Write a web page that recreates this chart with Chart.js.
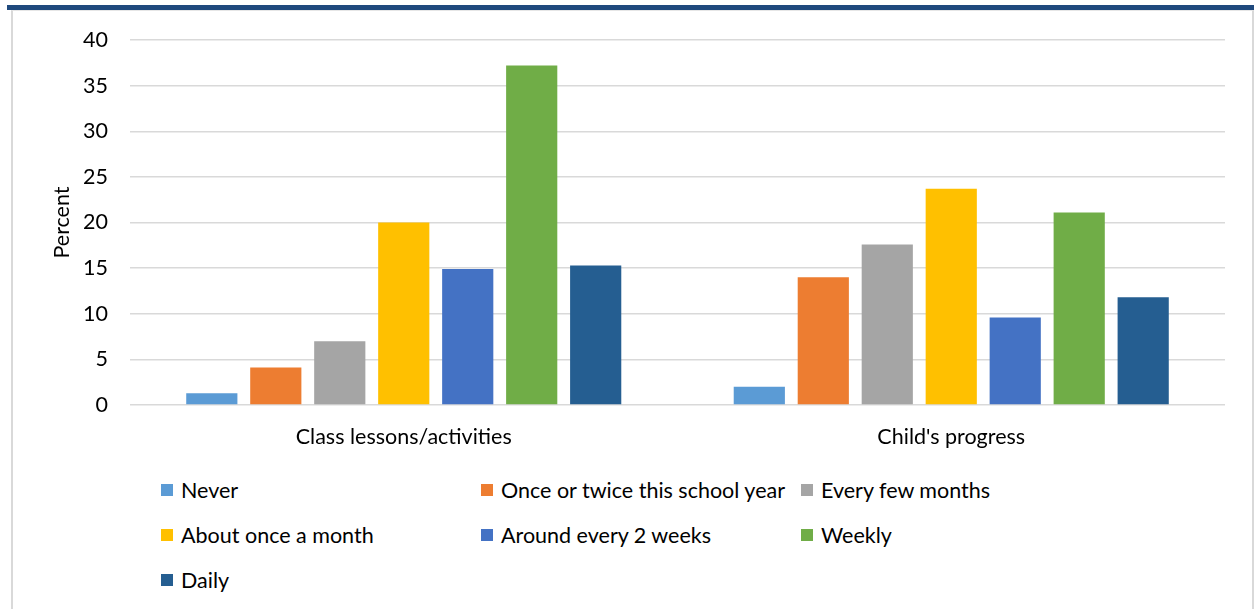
<!DOCTYPE html>
<html>
<head>
<meta charset="utf-8">
<script src="https://cdn.jsdelivr.net/npm/chart.js@4"></script>
<style>
    html, body { margin: 0; padding: 0; background: #fff; }
    body { width: 1254px; height: 609px; position: relative; overflow: hidden; font-family: Lato, sans-serif; }
    .frame { position: absolute; left: 7px; top: 5px; width: 1247px; height: 604px; border-top: 5px solid #1F497D; box-sizing: border-box; }
    .frame-in { position: absolute; left: 11px; top: 10px; width: 1243px; height: 599px; border-left: 2px solid #d9d9d9; border-right: 2px solid #d9d9d9; border-top: 1px solid #e6e6e6; box-sizing: border-box; }
    .chart-box { position: absolute; left: 0; top: 0; width: 1254px; height: 460px; }
    .legend { position: absolute; left: 0; top: 0; }
    .legend-item { position: absolute; display: flex; align-items: center; font-size: 21.5px; color: #000; white-space: nowrap; height: 26px; }
    .legend-item span.box { width: 12px; height: 12px; margin-right: 8px; display: inline-block; }
</style>
</head>
<body>
<div class="frame"></div>
<div class="frame-in"></div>
<div class="chart-box"><canvas id="chart"></canvas></div>
<div class="legend" id="legend"></div>
<script>
    // Категории и значения (проценты)
    const categories = ['Class lessons/activities', "Child's progress"];
    const seriesNames = ['Never', 'Once or twice this school year', 'Every few months', 'About once a month', 'Around every 2 weeks', 'Weekly', 'Daily'];
    const never = [1.3, 2.0];
    const onceTwice = [4.1, 14.0];
    const everyFewMonths = [7.0, 17.6];
    const onceMonth = [20.0, 23.7];
    const every2Weeks = [14.9, 9.6];
    const weekly = [37.2, 21.1];
    const daily = [15.3, 11.8];
    const yTicks = [0, 5, 10, 15, 20, 25, 30, 35, 40];

    const seriesValues = [never, onceTwice, everyFewMonths, onceMonth, every2Weeks, weekly, daily];
    const colors = ['#5B9BD5', '#ED7D31', '#A5A5A5', '#FFC000', '#4472C4', '#70AD47', '#255E91'];

    const fontFamily = 'Lato, sans-serif';
    const fontSize = 21.5;

    const datasets = seriesNames.map((name, i) => ({
        label: name,
        data: seriesValues[i],
        backgroundColor: colors[i],
        borderWidth: 0,
        categoryPercentage: 0.818,
        barPercentage: 0.8
    }));

    new Chart(document.getElementById('chart'), {
        type: 'bar',
        data: { labels: categories, datasets: datasets },
        options: {
            responsive: true,
            maintainAspectRatio: false,
            animation: false,
            layout: { padding: { left: 12, top: 40, right: 29, bottom: 0 } },
            plugins: { legend: { display: false }, tooltip: { enabled: false } },
            scales: {
                x: {
                    grid: { display: false },
                    border: { display: false },
                    ticks: { color: '#000', padding: 11, font: { family: fontFamily, size: fontSize } },
                    afterFit: scale => { scale.height = 55; }
                },
                y: {
                    min: yTicks[0],
                    max: yTicks[yTicks.length - 1],
                    afterBuildTicks: scale => { scale.ticks = yTicks.map(v => ({ value: v })); },
                    grid: { color: '#d9d9d9', lineWidth: 1.5, drawTicks: false },
                    border: { display: false },
                    ticks: { color: '#000', padding: 22, font: { family: fontFamily, size: fontSize } },
                    title: { display: true, text: 'Percent', color: '#000', font: { family: fontFamily, size: fontSize }, padding: { top: 37, bottom: 0 } },
                    afterFit: scale => { scale.width = 118; }
                }
            }
        }
    });

    // Легенда в три колонки
    const legendEl = document.getElementById('legend');
    const colX = [161, 481, 801];
    const rowY = [490, 535, 580];
    seriesNames.forEach((name, i) => {
        const item = document.createElement('div');
        item.className = 'legend-item';
        item.style.left = colX[i % 3] + 'px';
        item.style.top = (rowY[Math.floor(i / 3)] - 13) + 'px';
        item.innerHTML = '<span class="box" style="background:' + colors[i] + '"></span>' + name;
        legendEl.appendChild(item);
    });
</script>
</body>
</html>
